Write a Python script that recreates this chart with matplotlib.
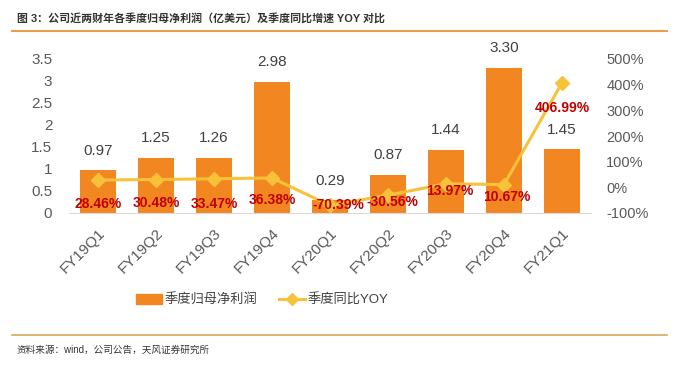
import matplotlib.pyplot as plt
import matplotlib.lines as mlines
import matplotlib.patches as mpatches

plt.rcParams['font.family'] = ['Liberation Sans', 'Noto Sans CJK SC']

# Data
quarters = ["FY19Q1", "FY19Q2", "FY19Q3", "FY19Q4", "FY20Q1",
            "FY20Q2", "FY20Q3", "FY20Q4", "FY21Q1"]
profit = [0.97, 1.25, 1.26, 2.98, 0.29, 0.87, 1.44, 3.30, 1.45]
yoy = [28.46, 30.48, 33.47, 36.38, -70.39, -30.56, 13.97, 10.67, 406.99]

left_ticks = [0, 0.5, 1, 1.5, 2, 2.5, 3, 3.5]
left_labels = ["0", "0.5", "1", "1.5", "2", "2.5", "3", "3.5"]
right_ticks = [-100, 0, 100, 200, 300, 400, 500]

# offsets (points) for the red YOY labels
yoy_dx = [0, 0, 0, 0, 6, 3, 3, 2, 0]
yoy_dy = [-17, -17, -18, -16, 0, -5, -5, -9, -18]

bar_color = "#F28620"
line_color = "#F8C13A"
red = "#C00000"
gray = "#595959"

fig = plt.figure(figsize=(6.77, 3.66), dpi=100)
W, H = 677, 366

# title and rules
fig.text(17 / W, 1 - 18 / H, "图 3：公司近两财年各季度归母净利润（亿美元）及季度同比增速 YOY 对比",
         fontsize=7.9, fontweight="bold", color="#333333", va="center")
fig.add_artist(mlines.Line2D([12 / W, 667 / W], [1 - 31 / H, 1 - 31 / H],
                             color="#E8A04E", lw=1.5))
fig.add_artist(mlines.Line2D([12 / W, 667 / W], [1 - 335 / H, 1 - 335 / H],
                             color="#D9A55C", lw=1.2))
fig.text(17 / W, 1 - 350 / H, "资料来源：wind，公司公告，天风证券研究所",
         fontsize=6.9, color="#333333", va="center")

ax = fig.add_axes([69 / W, 1 - 213 / H, (591 - 69) / W, (213 - 59) / H])
x = range(len(quarters))
ax.bar(x, profit, width=0.62, color=bar_color, zorder=2)
ax.set_xlim(-0.5, len(quarters) - 0.5)
ax.set_ylim(0, 3.5)
ax.set_yticks(left_ticks)
ax.set_yticklabels(left_labels)
ax.set_xticks(list(x))
ax.set_xticklabels(quarters, rotation=45, ha="right", rotation_mode="anchor")
ax.tick_params(axis="both", length=0, labelsize=11, colors=gray)
ax.tick_params(axis="x", pad=9)
ax.tick_params(axis="y", pad=12)
for s in ["top", "right", "left"]:
    ax.spines[s].set_visible(False)
ax.spines["bottom"].set_color("#D9D9D9")

for i, v in enumerate(profit):
    ax.annotate(f"{v:.2f}", (i, v), xytext=(0, 9), textcoords="offset points",
                ha="center", va="bottom", fontsize=11, color="#404040")

ax2 = ax.twinx()
ax2.plot(list(x), yoy, color=line_color, lw=2.2, marker="D", markersize=7,
         zorder=3)
ax2.set_ylim(-100, 500)
ax2.set_yticks(right_ticks)
ax2.set_yticklabels([f"{t}%" for t in right_ticks])
ax2.tick_params(axis="y", length=0, labelsize=10.5, colors=gray, pad=11)
for s in ["top", "right", "left", "bottom"]:
    ax2.spines[s].set_visible(False)

for i, v in enumerate(yoy):
    ax2.annotate(f"{v:.2f}%", (i, v), xytext=(yoy_dx[i], yoy_dy[i]),
                 textcoords="offset points", ha="center", va="center",
                 fontsize=10, fontweight="bold", color=red, zorder=4)

# legend
h1 = mpatches.Patch(color=bar_color)
h2 = mlines.Line2D([], [], color=line_color, lw=2.2, marker="D", markersize=6)
fig.legend([h1, h2], ["季度归母净利润", "季度同比YOY"], loc="center",
           bbox_to_anchor=(262 / W, 1 - 300 / H), ncol=2, frameon=False,
           fontsize=9.5, labelcolor="#404040", handlelength=2.0,
           handletextpad=0.2, columnspacing=1.6)

fig.savefig("out.png", dpi=100)
